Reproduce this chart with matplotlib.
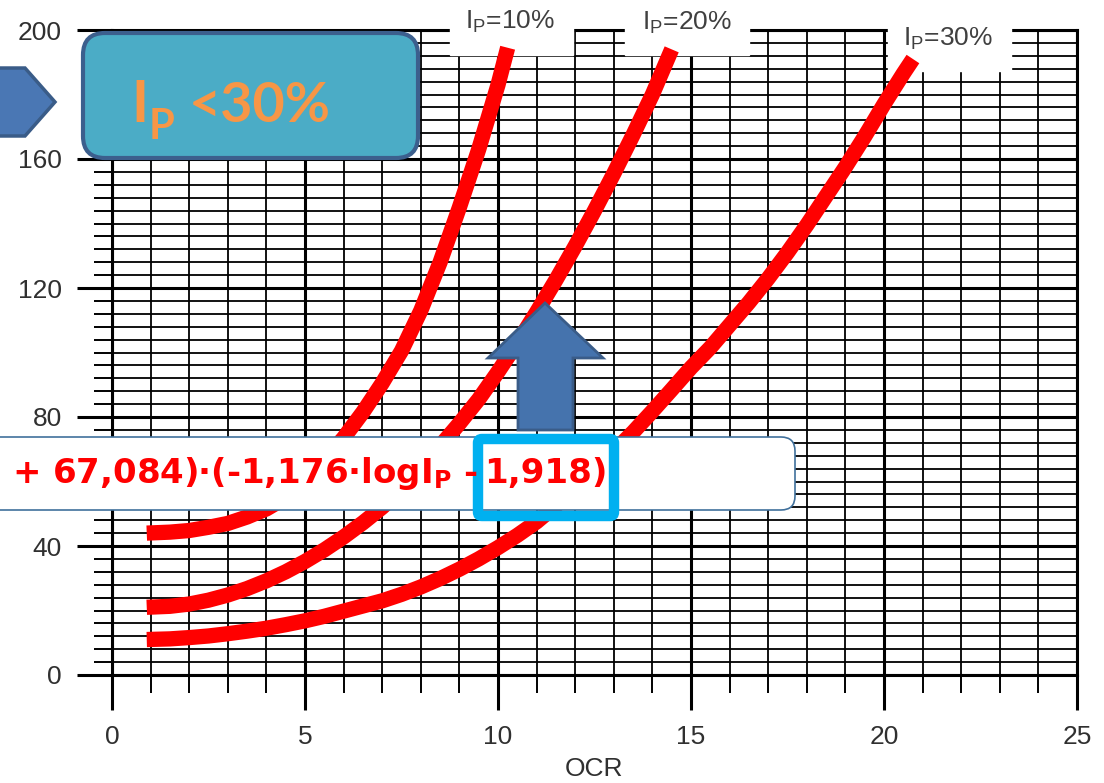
#Chart of the three Ip curves over an OCR grid, with the slide call-outs drawn on top
import matplotlib
matplotlib.use("Agg")
import matplotlib.pyplot as plt
from matplotlib.ticker import MultipleLocator
from matplotlib.patches import FancyBboxPatch, Polygon, Rectangle

# values
ocr_10 = [0.9, 1.5, 2, 2.5, 3, 3.5, 4, 4.5, 5, 5.5, 6, 6.5, 7, 7.5, 8, 8.5, 9, 9.5, 10, 10.25]
val_10 = [44, 44.3, 44.8, 45.8, 47, 49, 51.5, 55, 60, 66.5, 73.5, 81.5, 90.5, 100.5,
          113, 128, 145, 163, 183, 194.5]
ocr_20 = [0.9, 1.5, 2, 2.5, 3, 3.5, 4, 4.5, 5, 5.5, 6, 6.5, 7, 7.5, 8, 8.5, 9, 9.5,
          10, 10.5, 11, 11.5, 12, 12.5, 13, 13.5, 14, 14.5]
val_20 = [21, 21.3, 22, 23.2, 24.8, 26.8, 29.2, 32, 35.2, 38.8, 42.8, 47.2, 52, 57.5,
          64, 71, 78, 85.5, 94, 103, 112.5, 122.5, 133, 144, 155.5, 167.5, 180, 194]
ocr_30 = [0.9, 1.5, 2, 2.5, 3, 3.5, 4, 4.5, 5, 5.5, 6, 6.5, 7, 7.5, 8, 8.5, 9, 9.5, 10,
          10.5, 11, 11.5, 12, 12.5, 13, 13.5, 14, 14.5, 15, 15.5, 16, 16.5, 17, 17.5,
          18, 18.5, 19, 19.5, 20, 20.5, 20.75]
val_30 = [11, 11.2, 11.6, 12.1, 12.8, 13.6, 14.5, 15.6, 16.8, 18.2, 19.8, 21.4, 23, 25,
          27.3, 29.9, 32.8, 36, 39.5, 43.3, 47.5, 52.5, 58, 63.5, 69.3, 75.3, 81.8, 88.5,
          95.3, 101.5, 108.5, 115.5, 123, 131, 139.5, 148.5, 157.5, 167, 177, 186.5, 191]
curve_names = ["10%", "20%", "30%"]

x_ticks = [0, 5, 10, 15, 20, 25]
y_ticks = [0, 40, 80, 120, 160, 200]

formula_left = r"+ 67,084)·(-1,176·logI$_\mathregular{P}$ -"
formula_right = "1,918)"

fig = plt.figure(figsize=(11.04, 7.83), dpi=100)
ax = fig.add_axes([112 / 1104, 108 / 783, 965 / 1104, 645 / 783])

ax.set_xlim(0, 25)
ax.set_ylim(0, 200)
ax.xaxis.set_major_locator(MultipleLocator(5))
ax.xaxis.set_minor_locator(MultipleLocator(1))
ax.yaxis.set_major_locator(MultipleLocator(40))
ax.yaxis.set_minor_locator(MultipleLocator(4))
ax.set_xticks(x_ticks)
ax.set_yticks(y_ticks)
ax.grid(which="major", color="black", lw=2.2)
ax.grid(which="minor", color="black", lw=1.3)
ax.set_axisbelow(True)
for s in ax.spines.values():
    s.set_linewidth(2.2)
ax.tick_params(which="major", length=25, width=2.2, pad=11, labelsize=19,
               labelcolor="#303030", top=False, right=False)
ax.tick_params(which="minor", length=13, width=1.4, top=False, right=False)
for lab in ax.get_xticklabels() + ax.get_yticklabels():
    lab.set_family("Liberation Sans")
ax.set_xlabel("OCR", fontsize=19, family="Liberation Sans", color="#303030", labelpad=6)

# white patches behind the curve labels at the top
label_x = [9.15, 13.73, 20.49]
label_y = [200.6, 200.3, 195.3]
gaps = [(8.76, 11.94, 192.4), (13.3, 16.5, 192.4), (20.1, 23.3, 187.4)]
for x0, x1, yb in gaps:
    ax.add_patch(Rectangle((x0, yb), x1 - x0, 15, color="white", zorder=3, clip_on=False))

for xs, ys in [(ocr_10, val_10), (ocr_20, val_20), (ocr_30, val_30)]:
    ax.plot(xs, ys, color="#FF0000", lw=11, solid_capstyle="butt",
            solid_joinstyle="round", zorder=4)

for name, lx, ly in zip(curve_names, label_x, label_y):
    ax.text(lx, ly, r"I$_\mathregular{P}$=" + name, fontsize=19, family="Liberation Sans",
            color="#404040", ha="left", va="baseline", zorder=5, clip_on=False)

# overlay in pixel units for the slide shapes
ov = fig.add_axes([0, 0, 1, 1], zorder=5)
ov.set_xlim(0, 1104)
ov.set_ylim(783, 0)
ov.axis("off")

ov.add_patch(Polygon([(-5, 68), (25, 68), (55, 102), (25, 136), (-5, 136)],
                     closed=True, fc="#4A77B4", ec="#3A5C88", lw=2.5))
ov.add_patch(FancyBboxPatch((83, 33), 335, 125, boxstyle="round,pad=0,rounding_size=22",
                            fc="#4BACC6", ec="#3C5F8D", lw=3))
badge_style = dict(family="Lato", weight="bold", color="#F79646", ha="left", va="baseline")
ov.text(131, 122, "I", fontsize=41, **badge_style)
ov.text(149, 139, "P", fontsize=30, **badge_style)
ov.text(189, 122, "<30%", fontsize=40, **badge_style)

ov.add_patch(Polygon([(545, 303), (603, 358), (573, 358), (573, 430), (518, 430),
                      (518, 358), (488, 358)], closed=True, fc="#4573AD", ec="#3A5C88", lw=2))
ov.add_patch(FancyBboxPatch((-20, 437), 815, 73, boxstyle="round,pad=0,rounding_size=14",
                            fc="white", ec="#41719C", lw=1.2))
ov.text(12, 483, formula_left, fontsize=24.5, family="DejaVu Sans", weight="bold",
        color="#FF0000", ha="left", va="baseline")
ov.text(607, 483, formula_right, fontsize=24.5, family="DejaVu Sans", weight="bold",
        color="#FF0000", ha="right", va="baseline")
ov.add_patch(FancyBboxPatch((478, 439), 136, 77, boxstyle="round,pad=0,rounding_size=4",
                            fill=False, ec="#00B0F0", lw=7.5))

fig.savefig("out.png", dpi=100)
